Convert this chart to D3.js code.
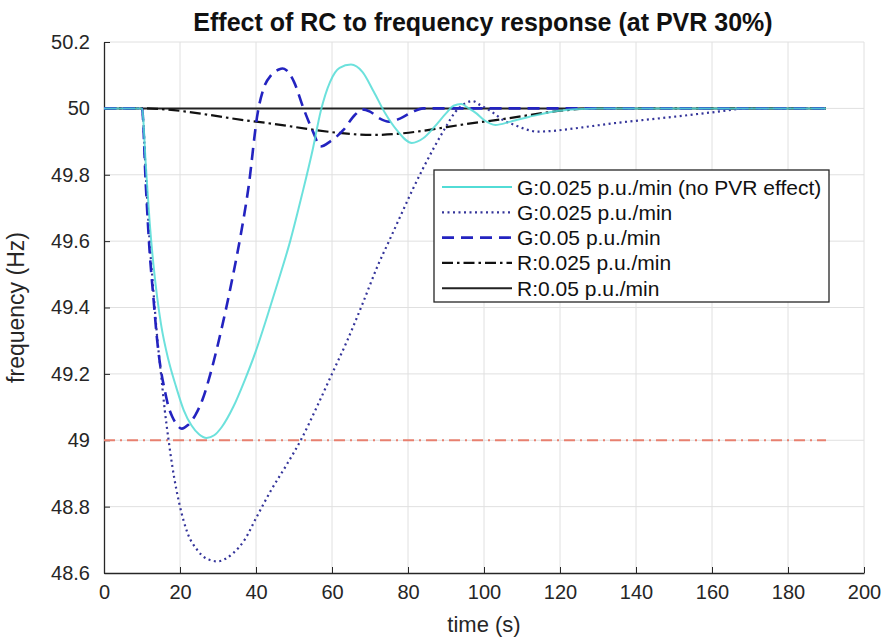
<!DOCTYPE html>
<html>
<head>
<meta charset="utf-8">
<script src="https://cdn.jsdelivr.net/npm/d3@7"></script>
<style>
  body { margin: 0; background: #fff; }
  svg { font-family: "Liberation Sans", Arial, sans-serif; }
</style>
</head>
<body>
<div id="chart"></div>
<script>
// ---- data ----
var xTicks = [0, 20, 40, 60, 80, 100, 120, 140, 160, 180, 200];
var yTicks = [48.6, 48.8, 49, 49.2, 49.4, 49.6, 49.8, 50, 50.2];

// G:0.025 p.u./min (no PVR effect)
var tNoPvr = [0, 10, 11, 12, 13, 14, 15, 17, 19, 21, 23, 25, 27, 29, 31, 34, 37, 40, 43, 46, 49, 52, 55, 57, 59.5, 62, 65, 68, 71, 74, 77, 81, 84, 87, 90, 92, 94, 96, 98, 100, 103, 107, 112, 118, 124, 130, 190];
var fNoPvr = [50, 50, 49.83, 49.66, 49.53, 49.43, 49.35, 49.24, 49.16, 49.09, 49.045, 49.018, 49.007, 49.015, 49.04, 49.1, 49.18, 49.27, 49.375, 49.485, 49.6, 49.735, 49.88, 49.99, 50.08, 50.122, 50.132, 50.11, 50.05, 49.985, 49.935, 49.896, 49.91, 49.945, 49.985, 50.008, 50.013, 50.0, 49.985, 49.965, 49.95, 49.96, 49.975, 49.99, 49.997, 50, 50];

// G:0.025 p.u./min
var tG025 = [0, 10, 11, 12, 13, 14, 15, 16, 17, 18, 20, 22, 24.5, 27, 30, 32, 34, 37, 40, 44, 48, 52, 56, 60, 64, 68, 72, 75, 78, 81, 84, 87, 90, 92.5, 95, 97, 99, 102, 105, 108, 111, 114, 118, 122, 128, 134, 142, 151, 160, 170, 190];
var fG025 = [50, 50, 49.8, 49.6, 49.45, 49.31, 49.2, 49.09, 49.0, 48.92, 48.8, 48.72, 48.67, 48.643, 48.635, 48.643, 48.66, 48.7, 48.765, 48.85, 48.925, 49.005, 49.1, 49.2, 49.3, 49.41, 49.525, 49.6, 49.675, 49.75, 49.82, 49.885, 49.945, 49.99, 50.015, 50.022, 50.01, 49.99, 49.965, 49.95, 49.937, 49.93, 49.932, 49.937, 49.946, 49.955, 49.965, 49.976, 49.988, 50, 50];

// G:0.05 p.u./min
var tG05 = [0, 10, 11, 12, 13, 14, 15, 16, 17, 18, 19, 20.5, 22, 24, 26, 28, 30, 32, 34, 36, 38, 40.5, 42, 44, 46, 47, 48, 50, 52.5, 55, 57, 59.5, 63, 66, 68, 70, 72.5, 75, 78, 81, 84, 190];
var fG05 = [50, 50, 49.77, 49.57, 49.43, 49.3, 49.21, 49.15, 49.1, 49.07, 49.05, 49.035, 49.045, 49.075, 49.125, 49.2, 49.29, 49.39, 49.5, 49.62, 49.76, 49.99, 50.06, 50.1, 50.117, 50.12, 50.115, 50.08, 50.0, 49.93, 49.885, 49.9, 49.935, 49.98, 49.997, 49.99, 49.97, 49.96, 49.97, 49.988, 50, 50];

// R:0.025 p.u./min
var tR025 = [0, 10, 40, 71, 100, 130, 190];
var fR025 = [50, 50, 49.96, 49.92, 49.96, 50, 50];

// R:0.05 p.u./min
var tR05 = [0, 190];
var fR05 = [50, 50];

// 49 Hz limit
var tLimit = [0, 190];
var fLimit = [49, 49];

var legendLabels = ["G:0.025 p.u./min (no PVR effect)", "G:0.025 p.u./min", "G:0.05 p.u./min", "R:0.025 p.u./min", "R:0.05 p.u./min"];

function zip(t, f) { return t.map(function(d, i) { return {t: d, f: f[i]}; }); }

// ---- canvas ----
var W = 888, H = 637;
var margin = {top: 42, right: 24, bottom: 64, left: 104};

var svg = d3.select("#chart").append("svg")
  .attr("width", W)
  .attr("height", H);

var x = d3.scaleLinear().domain([0, 200]).range([margin.left, W - margin.right]);
var y = d3.scaleLinear().domain([48.6, 50.2]).range([H - margin.bottom, margin.top]);

// grid
svg.append("g").selectAll("line")
  .data(xTicks.slice(1))
  .enter().append("line")
    .attr("x1", function(d) { return x(d); })
    .attr("x2", function(d) { return x(d); })
    .attr("y1", y(48.6))
    .attr("y2", y(50.2))
    .attr("stroke", "#e0e0e0");
svg.append("g").selectAll("line")
  .data(yTicks.slice(1))
  .enter().append("line")
    .attr("x1", x(0))
    .attr("x2", x(200))
    .attr("y1", function(d) { return y(d); })
    .attr("y2", function(d) { return y(d); })
    .attr("stroke", "#e0e0e0");

// axes (inward ticks)
var xAxis = svg.append("g")
  .attr("transform", "translate(0," + y(48.6) + ")")
  .call(d3.axisBottom(x).tickValues(xTicks).tickSizeInner(-6).tickSizeOuter(0).tickPadding(12));
var yAxis = svg.append("g")
  .attr("transform", "translate(" + x(0) + ",0)")
  .call(d3.axisLeft(y).tickValues(yTicks).tickFormat(d3.format("")).tickSizeInner(-6).tickSizeOuter(0).tickPadding(14));

[xAxis, yAxis].forEach(function(a) {
  a.select(".domain").attr("stroke", "#262626").attr("stroke-width", 1.3);
  a.selectAll(".tick line").attr("stroke", "#262626");
  a.selectAll("text")
    .attr("fill", "#262626")
    .style("font-size", "20px")
    .style("font-family", "'Liberation Sans', Arial, sans-serif");
});

// curves
var line = d3.line()
  .x(function(d) { return x(d.t); })
  .y(function(d) { return y(d.f); })
  .curve(d3.curveMonotoneX);

var series = [
  {data: zip(tLimit, fLimit), color: "#e8806f", width: 2, dash: "11,5,2,5"},
  {data: zip(tR05, fR05), color: "#222222", width: 2, dash: null},
  {data: zip(tR025, fR025), color: "#111111", width: 2.2, dash: "11,4,2.5,4"},
  {data: zip(tG025, fG025), color: "#34349a", width: 2.2, dash: "2,3.5"},
  {data: zip(tG05, fG05), color: "#2323c0", width: 2.6, dash: "12,7"},
  {data: zip(tNoPvr, fNoPvr), color: "#52dcd6", width: 2, dash: null, opacity: 0.85}
];

series.forEach(function(s) {
  svg.append("path")
    .datum(s.data)
    .attr("d", line)
    .attr("fill", "none")
    .attr("stroke", s.color)
    .attr("stroke-width", s.width)
    .attr("stroke-dasharray", s.dash)
    .attr("stroke-opacity", s.opacity || 1);
});

// titles
svg.append("text")
  .attr("x", 483)
  .attr("y", 31)
  .attr("text-anchor", "middle")
  .style("font-size", "25px")
  .style("font-weight", "bold")
  .attr("fill", "#111")
  .text("Effect of RC to frequency response (at PVR 30%)");

svg.append("text")
  .attr("x", 484)
  .attr("y", 632)
  .attr("text-anchor", "middle")
  .style("font-size", "22px")
  .attr("fill", "#262626")
  .text("time (s)");

svg.append("text")
  .attr("transform", "translate(24," + ((y(48.6) + y(50.2)) / 2) + ")rotate(-90)")
  .attr("text-anchor", "middle")
  .style("font-size", "23px")
  .attr("fill", "#262626")
  .text("frequency (Hz)");

// legend
var legendStyle = [
  {color: "#52dcd6", width: 2, dash: null},
  {color: "#34349a", width: 2.2, dash: "2,3.5"},
  {color: "#2323c0", width: 2.6, dash: "12,7"},
  {color: "#111111", width: 2.2, dash: "11,4,2.5,4"},
  {color: "#222222", width: 2, dash: null}
];
var legend = svg.append("g").attr("transform", "translate(434,170)");
legend.append("rect")
  .attr("width", 395)
  .attr("height", 132)
  .attr("fill", "#fff")
  .attr("stroke", "#262626")
  .attr("stroke-width", 1.3);
var rows = legend.selectAll("g.row")
  .data(legendLabels)
  .enter().append("g")
    .attr("class", "row")
    .attr("transform", function(d, i) { return "translate(0," + (17 + i * 25.3) + ")"; });
rows.append("line")
  .attr("x1", 8)
  .attr("x2", 78)
  .attr("stroke", function(d, i) { return legendStyle[i].color; })
  .attr("stroke-width", function(d, i) { return legendStyle[i].width; })
  .attr("stroke-dasharray", function(d, i) { return legendStyle[i].dash; });
rows.append("text")
  .attr("x", 83)
  .attr("dy", "0.36em")
  .style("font-size", "21px")
  .attr("fill", "#111")
  .text(function(d) { return d; });
</script>
</body>
</html>
